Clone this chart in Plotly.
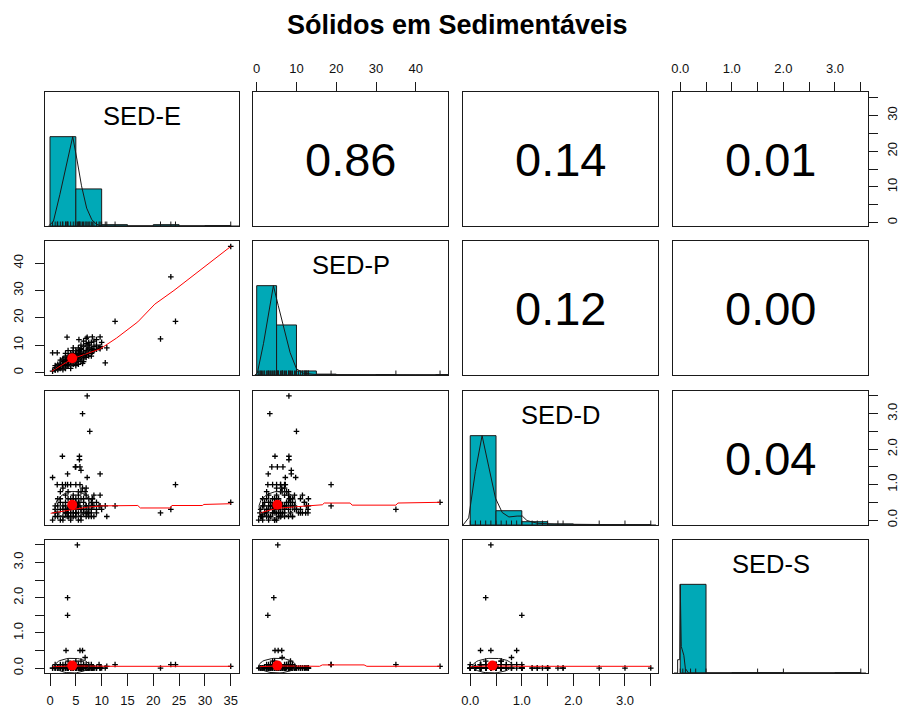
import math
import plotly.graph_objects as go

chart_title = "Sólidos em Sedimentáveis"
var_names = ["SED-E", "SED-P", "SED-D", "SED-S"]

sed_e = [1.0, 1.5, 2.0, 2.0, 2.5, 2.5, 3.0, 3.0, 3.0, 3.5,
         3.5, 3.5, 4.0, 4.0, 4.0, 4.0, 4.5, 4.5, 4.5, 4.5,
         5.0, 5.0, 5.0, 5.0, 5.5, 5.5, 5.5, 6.0, 6.0, 6.0,
         6.5, 6.5, 6.5, 7.0, 7.0, 7.0, 7.5, 7.5, 8.0, 8.0,
         8.5, 9.0, 1.0, 1.5, 2.0, 2.5, 3.0, 3.0, 3.5, 3.5,
         4.0, 4.0, 4.5, 4.5, 5.0, 5.0, 5.5, 5.5, 6.0, 6.0,
         6.5, 6.5, 7.0, 7.0, 7.5, 7.5, 8.0, 8.5, 9.0, 9.5,
         3.3, 5.6, 7.2, 8.2, 0.5, 1.4, 2.4, 2.5, 3.0, 4.0,
         5.0, 5.8, 3.4, 7.2, 9.7, 4.9, 5.8, 5.0, 2.4, 5.7,
         5.7, 6.0, 7.2, 6.3, 7.7, 35.0, 23.4, 24.3, 12.6, 21.4,
         10.7, 5.3, 3.4, 3.4, 3.1, 5.8, 6.3, 6.8, 8.2, 9.7,
         0.5, 1.0, 1.5, 2.0, 2.5, 3.0, 3.5, 4.0, 4.5, 5.0,
         5.5, 6.0, 6.5, 7.0, 7.5, 8.0, 8.5, 1.0, 1.5, 2.0,
         9.7, 8.2, 10.0, 11.0, 9.0]
sed_p = [1.2, 2.0, 1.5, 3.0, 2.5, 4.0, 2.0, 3.5, 4.5, 3.0,
         4.0, 5.0, 3.5, 4.5, 5.5, 6.0, 4.0, 5.0, 6.0, 7.0,
         4.5, 5.5, 6.5, 8.0, 5.0, 6.0, 7.5, 5.5, 7.0, 8.5,
         6.0, 7.5, 9.5, 6.5, 8.0, 10.5, 7.0, 9.0, 8.5, 11.0,
         9.5, 10.0, 2.5, 1.0, 2.0, 3.0, 1.5, 5.5, 2.5, 6.0,
         2.5, 7.0, 3.0, 8.0, 3.5, 7.0, 4.0, 9.0, 4.5, 10.0,
         5.0, 11.5, 5.5, 12.5, 6.0, 11.0, 7.0, 8.0, 8.5, 9.0,
         12.9, 12.0, 12.9, 8.2, 7.2, 7.2, 4.0, 5.0, 6.0, 5.0,
         6.0, 7.0, 2.9, 9.8, 8.7, 5.2, 6.6, 3.8, 4.6, 8.1,
         8.1, 8.7, 8.1, 3.3, 10.0, 46.1, 35.0, 18.7, 18.7, 12.3,
         3.5, 5.3, 4.3, 2.8, 4.6, 5.4, 6.3, 6.4, 13.0, 13.0,
         0.5, 0.8, 3.0, 4.5, 1.0, 7.0, 8.0, 1.5, 9.0, 2.5,
         3.0, 6.0, 4.0, 7.0, 8.5, 6.0, 11.5, 1.8, 1.5, 2.5,
         9.5, 7.5, 11.0, 9.0, 12.0]
sed_d = [0.1, 0.2, 0.0, 0.3, 0.1, 0.4, 0.2, 0.5, 0.3, 0.1,
         0.6, 0.2, 0.4, 0.0, 0.3, 0.5, 0.2, 0.7, 0.1, 0.4,
         0.3, 0.6, 0.2, 0.5, 0.0, 0.4, 0.8, 0.3, 0.1, 0.6,
         0.2, 0.5, 0.3, 0.4, 0.7, 0.2, 0.3, 0.1, 0.5, 0.2,
         0.4, 0.3, 0.3, 0.1, 0.5, 0.0, 0.4, 0.2, 0.3, 0.1,
         0.6, 0.2, 0.5, 0.3, 0.1, 0.4, 0.2, 0.5, 0.0, 0.3,
         0.6, 0.2, 0.1, 0.4, 0.2, 0.6, 0.3, 0.1, 0.2, 0.4,
         0.3, 0.5, 0.2, 0.6, 1.2, 1.0, 1.0, 0.9, 1.0, 1.0,
         1.0, 1.0, 1.3, 1.2, 1.3, 1.5, 1.5, 1.5, 1.8, 1.8,
         1.7, 1.4, 3.5, 3.0, 2.5, 0.5, 0.3, 1.0, 0.4, 0.2,
         0.4, 0.4, 0.3, 1.0, 0.2, 0.4, 0.9, 0.8, 0.6, 0.4,
         0.0, 0.2, 0.4, 0.6, 0.3, 0.7, 0.8, 0.1, 0.6, 0.2,
         0.7, 0.8, 0.3, 0.9, 0.4, 0.1, 0.7, 0.4, 0.6, 0.8,
         0.7, 0.4, 0.3, 0.1, 0.5]
sed_s = [0.0, 0.0, 0.0, 0.1, 0.0, 0.0, 0.0, 0.1, 0.0, 0.0,
         0.2, 0.0, 0.0, 0.1, 0.0, 0.0, 0.0, 0.1, 0.0, 0.0,
         0.2, 0.0, 0.0, 0.1, 0.0, 0.0, 0.1, 0.0, 0.0, 0.2,
         0.0, 0.1, 0.0, 0.0, 0.1, 0.0, 0.0, 0.0, 0.1, 0.0,
         0.0, 0.0, 0.1, 0.0, 0.0, 0.0, 0.0, 0.1, 0.0, 0.0,
         0.0, 0.1, 0.0, 0.0, 0.0, 0.0, 0.1, 0.0, 0.0, 0.0,
         0.1, 0.0, 0.0, 0.0, 0.1, 0.0, 0.0, 0.0, 0.0, 0.1,
         0.0, 0.0, 0.0, 0.0, 0.0, 0.0, 0.0, 0.1, 0.0, 0.0,
         0.0, 0.0, 0.0, 0.0, 0.0, 0.0, 0.0, 0.0, 0.0, 0.0,
         0.0, 0.0, 0.0, 0.0, 0.0, 0.05, 0.1, 0.1, 0.1, 0.0,
         0.0, 3.5, 2.0, 1.5, 0.5, 0.5, 0.5, 0.3, 0.0, 0.0,
         0.0, 0.0, 0.0, 0.0, 0.0, 0.0, 0.0, 0.0, 0.0, 0.0,
         0.0, 0.0, 0.0, 0.0, 0.0, 0.0, 0.0, 0.0, 0.0, 0.0,
         0.0, 0.0, 0.0, 0.05, 0.0]

# ---- correlations printed in the upper panels ----
corr_pairs = [(0, 1), (0, 2), (0, 3), (1, 2), (1, 3), (2, 3)]
corr_values = [0.86, 0.14, 0.01, 0.12, 0.00, 0.04]

# ---- summary statistics (red dots / ellipses) ----
sed_means = [4.3, 5.2, 0.43, 0.07]
sed_sds = [3.3, 4.6, 0.38, 0.21]

# ---- histograms (relative bar heights) ----
hist_breaks_e = [0, 5, 10, 15, 20, 25, 30, 35]
hist_rel_e = [1.0, 0.415, 0.015, 0.0, 0.015, 0.0, 0.005]
hist_breaks_p = [0, 5, 10, 15, 20, 25, 30, 35, 40, 45, 50]
hist_rel_p = [1.0, 0.56, 0.045, 0.01, 0.0, 0.0, 0.005, 0.0, 0.0, 0.005]
hist_breaks_d = [0.0, 0.5, 1.0, 1.5, 2.0, 2.5, 3.0, 3.5]
hist_rel_d = [1.0, 0.16, 0.037, 0.012, 0.004, 0.004, 0.004]
hist_breaks_s = [0.0, 0.5, 1.0, 1.5, 2.0, 2.5, 3.0, 3.5]
hist_rel_s = [1.0, 0.0, 0.004, 0.004, 0.0, 0.0, 0.004]

# ---- density curves (normalised) ----
dens_e_x = [-0.3, 0.65, 1.9, 3.2, 4.4, 5.2, 6.1, 7.1, 8.1, 9.0, 10.0, 36.6]
dens_e_y = [0.0, 0.05, 0.35, 0.7, 1.0, 0.75, 0.45, 0.2, 0.07, 0.02, 0.0, 0.0]
dens_p_x = [-0.5, 0.15, 1.7, 3.3, 4.2, 5.4, 6.7, 8.4, 10.0, 11.7, 15.0, 48.0]
dens_p_y = [0.0, 0.02, 0.35, 0.8, 1.0, 0.78, 0.55, 0.25, 0.07, 0.02, 0.005, 0.0]
dens_d_x = [-0.14, -0.03, 0.1, 0.23, 0.36, 0.49, 0.62, 0.75, 0.91, 1.01, 1.1, 1.3, 1.63, 3.6]
dens_d_y = [0.0, 0.08, 0.6, 1.0, 0.65, 0.3, 0.14, 0.09, 0.1, 0.1, 0.05, 0.02, 0.01, 0.0]
dens_s_x = [-0.12, -0.05, -0.05, -0.01, 0.0, 0.02, 0.04, 0.07, 0.1, 0.16, 3.6]
dens_s_y = [0.0, 0.0, 0.15, 0.15, 1.0, 0.3, 0.26, 0.2, 0.05, 0.0, 0.0]

# ---- smoother lines in the lower panels ----
low_pe_x = [0.3, 4.3, 9.7, 12.9, 17.0, 20.3, 24.0, 35.0]
low_pe_y = [0.4, 5.0, 8.6, 12.6, 18.5, 25.0, 30.0, 46.1]
low_de_x = [0.13, 2.5, 4.2, 7.1, 10.1, 17.0, 17.5, 23.3, 23.6, 29.5, 29.8, 35.0]
low_de_y = [0.19, 0.24, 0.29, 0.36, 0.40, 0.41, 0.34, 0.34, 0.41, 0.41, 0.44, 0.46]
low_dp_x = [0.8, 5.0, 11.7, 16.5, 17.0, 23.5, 24.0, 35.0, 35.5, 46.1]
low_dp_y = [0.2, 0.33, 0.39, 0.43, 0.48, 0.48, 0.42, 0.42, 0.48, 0.5]
low_se_x = [0.5, 4.3, 12.0, 35.0]
low_se_y = [0.04, 0.06, 0.05, 0.05]
low_sp_x = [0.8, 5.0, 15.8, 16.5, 27.0, 27.7, 46.1]
low_sp_y = [0.04, 0.06, 0.05, 0.09, 0.09, 0.05, 0.05]
low_sd_x = [0.0, 0.4, 1.0, 3.5]
low_sd_y = [0.04, 0.06, 0.05, 0.05]

# ---- axis ticks ----
ticks_e = [0, 5, 10, 15, 20, 25, 30, 35]
ticks_p = [0, 10, 20, 30, 40]
ticks_half = [0.0, 0.5, 1.0, 1.5, 2.0, 2.5, 3.0, 3.5]
half_labels = ["0.0", "", "1.0", "", "2.0", "", "3.0", ""]

# ===================== drawing =====================
data_cols = [sed_e, sed_p, sed_d, sed_s]
hist_info = [(hist_breaks_e, hist_rel_e), (hist_breaks_p, hist_rel_p),
             (hist_breaks_d, hist_rel_d), (hist_breaks_s, hist_rel_s)]
dens_info = [(dens_e_x, dens_e_y), (dens_p_x, dens_p_y),
             (dens_d_x, dens_d_y), (dens_s_x, dens_s_y)]
smooth_info = {(1, 0): (low_pe_x, low_pe_y), (2, 0): (low_de_x, low_de_y),
               (2, 1): (low_dp_x, low_dp_y), (3, 0): (low_se_x, low_se_y),
               (3, 1): (low_sp_x, low_sp_y), (3, 2): (low_sd_x, low_sd_y)}
corr_lookup = {}
for (a, b), v in zip(corr_pairs, corr_values):
    corr_lookup[(a, b)] = v
    corr_lookup[(b, a)] = v

W, H = 900, 707
col_px = [(45, 239), (253, 448), (463, 658), (673, 868)]
row_px = [(92, 226), (241, 375), (391, 525), (540, 673)]
var_ranges = [[-0.97, 36.6], [-0.93, 48.1], [-0.14, 3.64], [-0.14, 3.64]]
HIST_TOP = 1.5

FONT = "Liberation Sans, Arial, sans-serif"
LINE = "#1a1a1a"
BAR = "#00A9B7"
TICKFONT = dict(family=FONT, size=13, color="#111111")

fig = go.Figure()
layout = dict(width=W, height=H, margin=dict(l=0, r=0, t=0, b=0, autoexpand=False),
              paper_bgcolor="white", plot_bgcolor="white",
              showlegend=False, barmode="overlay")
annotations = []


def idx(i, j):
    return i * 4 + j + 1


def refs(k):
    return ("x" if k == 1 else f"x{k}"), ("y" if k == 1 else f"y{k}")


def ellipse_pts(xm, ym, xs, ys, r, segments=51):
    theta = (math.copysign(1.0, r) / math.sqrt(2)) if abs(r) > 0 else 1 / math.sqrt(2)
    a, b = math.sqrt(1 + r), math.sqrt(1 - r)
    m = [[a * theta, a * theta], [-b * theta, b * theta]]
    xs_out, ys_out = [], []
    for s in range(segments + 1):
        ang = 2 * math.pi * s / segments
        c, sn = math.cos(ang), math.sin(ang)
        ex = c * m[0][0] + sn * m[1][0]
        ey = c * m[0][1] + sn * m[1][1]
        xs_out.append(ex * xs + xm)
        ys_out.append(ey * ys + ym)
    return xs_out, ys_out


for i in range(4):
    for j in range(4):
        k = idx(i, j)
        xr, yr = refs(k)
        xname = "xaxis" if k == 1 else f"xaxis{k}"
        yname = "yaxis" if k == 1 else f"yaxis{k}"
        x0, x1 = col_px[j]
        y0, y1 = row_px[i]
        xa = dict(domain=[x0 / W, x1 / W], range=var_ranges[j], anchor=yr,
                  showline=True, mirror=True, linecolor=LINE, linewidth=1,
                  showgrid=False, zeroline=False, ticks="", showticklabels=False,
                  fixedrange=True, automargin=False)
        ya = dict(domain=[1 - y1 / H, 1 - y0 / H],
                  range=[0, HIST_TOP] if i == j else var_ranges[i], anchor=xr,
                  showline=True, mirror=True, linecolor=LINE, linewidth=1,
                  showgrid=False, zeroline=False, ticks="", showticklabels=False,
                  fixedrange=True, automargin=False)

        # outer axes (alternating like R pairs)
        if i == 3 and j in (0, 2):
            vals = ticks_e if j == 0 else ticks_half
            txt = [str(v) for v in ticks_e] if j == 0 else half_labels
            xa.update(ticks="outside", ticklen=12, tickwidth=1, tickcolor=LINE,
                      tickvals=vals, ticktext=txt, showticklabels=True,
                      tickfont=TICKFONT, side="bottom", tickangle=0,
                      ticklabelstandoff=3)
        if i == 0 and j in (1, 3):
            vals = ticks_p if j == 1 else ticks_half
            txt = [str(v) for v in ticks_p] if j == 1 else half_labels
            xa.update(ticks="outside", ticklen=9, tickwidth=1, tickcolor=LINE,
                      tickvals=vals, ticktext=txt, showticklabels=True,
                      tickfont=TICKFONT, side="top", tickangle=0,
                      ticklabelstandoff=4)
        if j == 0 and i in (1, 3):
            vals = ticks_p if i == 1 else ticks_half
            txt = [str(v) for v in ticks_p] if i == 1 else half_labels
            ya.update(ticks="outside", ticklen=9, tickwidth=1, tickcolor=LINE,
                      tickvals=vals, ticktext=txt, showticklabels=True,
                      tickfont=TICKFONT, side="left", tickangle=-90,
                      ticklabelstandoff=7)
        if j == 3 and i in (0, 2):
            vals = ticks_e if i == 0 else ticks_half
            txt = ["0", "", "10", "", "20", "", "30", ""] if i == 0 else half_labels
            ya.update(ticks="outside", ticklen=9, tickwidth=1, tickcolor=LINE,
                      tickvals=vals, ticktext=txt, showticklabels=True,
                      tickfont=TICKFONT, side="right", tickangle=-90,
                      ticklabelstandoff=3)
        layout[xname] = xa
        layout[yname] = ya

        if i == j:
            breaks, rel = hist_info[i]
            centers = [(breaks[t] + breaks[t + 1]) / 2 for t in range(len(rel))]
            widths = [breaks[t + 1] - breaks[t] for t in range(len(rel))]
            fig.add_trace(go.Bar(x=centers, y=rel, width=widths, xaxis=xr, yaxis=yr,
                                 marker=dict(color=BAR, line=dict(color=LINE, width=1)),
                                 hoverinfo="skip"))
            dx, dy = dens_info[i]
            fig.add_trace(go.Scatter(x=dx, y=dy, mode="lines", xaxis=xr, yaxis=yr,
                                     line=dict(color=LINE, width=1), hoverinfo="skip"))
            rx, ry = [], []
            for v in sorted(set(data_cols[i])):
                rx += [v, v, None]
                ry += [0, 0.05, None]
            fig.add_trace(go.Scatter(x=rx, y=ry, mode="lines", xaxis=xr, yaxis=yr,
                                     line=dict(color=LINE, width=1), hoverinfo="skip"))
            annotations.append(dict(text=var_names[i], x=0.5, y=1.23,
                                    xref=f"{xr} domain", yref=yr, showarrow=False,
                                    font=dict(family=FONT, size=25.5, color="black"),
                                    xanchor="center", yanchor="middle"))
        elif i < j:
            # empty trace so the panel (box) is drawn
            fig.add_trace(go.Scatter(x=[None], y=[None], mode="markers",
                                     xaxis=xr, yaxis=yr, hoverinfo="skip"))
            annotations.append(dict(text=f"{corr_lookup[(i, j)]:.2f}", x=0.5, y=0.5,
                                    xref=f"{xr} domain", yref=f"{yr} domain",
                                    showarrow=False,
                                    font=dict(family=FONT, size=47, color="black"),
                                    xanchor="center", yanchor="middle"))
        else:
            xs_d, ys_d = data_cols[j], data_cols[i]
            fig.add_trace(go.Scatter(x=xs_d, y=ys_d, mode="markers", xaxis=xr, yaxis=yr,
                                     marker=dict(symbol="cross-thin", size=4,
                                                 line=dict(color="black", width=1.3)),
                                     hoverinfo="skip"))
            lx, ly = smooth_info[(i, j)]
            fig.add_trace(go.Scatter(x=lx, y=ly, mode="lines", xaxis=xr, yaxis=yr,
                                     line=dict(color="red", width=1), hoverinfo="skip"))
            ex, ey = ellipse_pts(sed_means[j], sed_means[i], sed_sds[j], sed_sds[i],
                                 corr_lookup[(i, j)])
            fig.add_trace(go.Scatter(x=ex, y=ey, mode="lines", xaxis=xr, yaxis=yr,
                                     line=dict(color=LINE, width=1), hoverinfo="skip"))
            fig.add_trace(go.Scatter(x=[sed_means[j]], y=[sed_means[i]], mode="markers",
                                     xaxis=xr, yaxis=yr,
                                     marker=dict(color="red", size=10, line=dict(width=0)),
                                     hoverinfo="skip"))

annotations.append(dict(text=f"<b>{chart_title}</b>", x=457 / W, y=1 - 25.5 / H,
                        xref="paper", yref="paper", showarrow=False,
                        font=dict(family=FONT, size=27, color="black"),
                        xanchor="center", yanchor="middle"))
layout["annotations"] = annotations
fig.update_layout(**layout)
fig.write_html("out.html")
